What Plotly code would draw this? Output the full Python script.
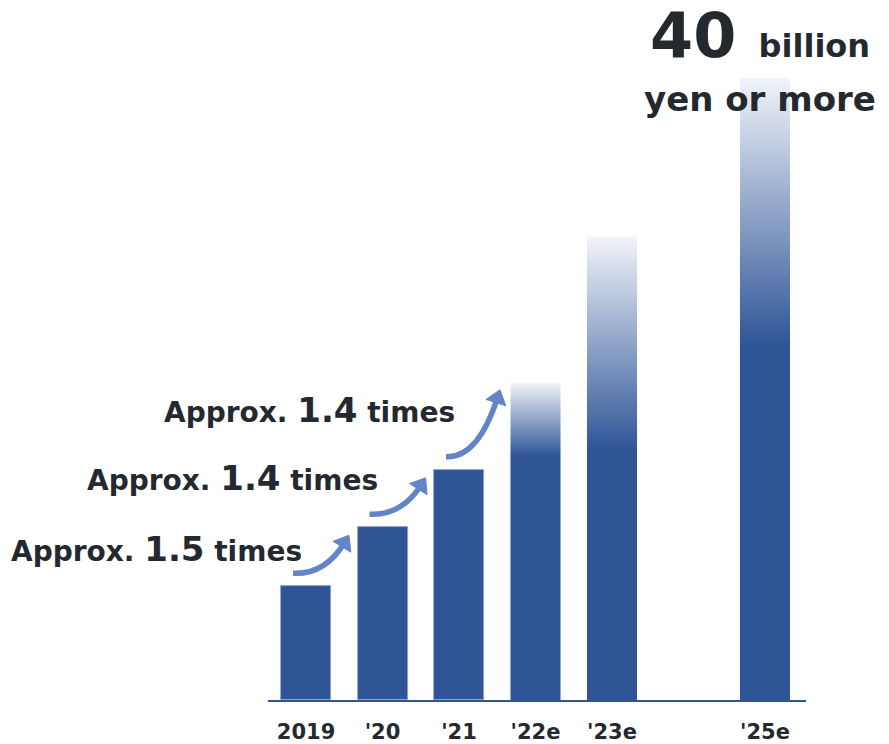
import plotly.graph_objects as go

# ---- data ----
years = ["2019", "'20", "'21", "'22e", "'23e", "'25e"]
slots = [0, 1, 2, 3, 4, 6]          # '24 slot left empty
values = [7.3, 11.1, 14.8, 20.4, 29.8, 40.0]   # billion yen
estimate = [False, False, False, True, True, True]
growth_labels = ["1.5", "1.4", "1.4"]

# ---- style ----
BAR = "#2F5597"
FADE = "#F1F4F9"
ARROW = "#6384C8"
TXT = "#23292F"
FONT = "DejaVu Sans"
solid_frac = {3: 0.77, 4: 0.54, 5: 0.57}
BW = 0.654

fig = go.Figure()

# solid bars
sx = [slots[i] for i in range(len(values)) if not estimate[i]]
sy = [values[i] for i in range(len(values)) if not estimate[i]]
fig.add_trace(go.Bar(x=sx, y=sy, width=BW, marker=dict(color=BAR, line=dict(width=0.8, color="#8EA2CF")),
                     hoverinfo="skip", showlegend=False))

# gradient bars (estimates)
for i in range(len(values)):
    if not estimate[i]:
        continue
    c = slots[i]
    v = values[i]
    f = solid_frac[i]
    fig.add_trace(go.Scatter(
        x=[c - BW / 2, c + BW / 2, c + BW / 2, c - BW / 2, c - BW / 2],
        y=[0, 0, v, v, 0],
        mode="lines", line=dict(width=0), fill="toself",
        fillgradient=dict(type="vertical", start=0, stop=v,
                          colorscale=[[0, BAR], [f, BAR], [1, FADE]]),
        hoverinfo="skip", showlegend=False))

# growth arrows + labels
for k, g in enumerate(growth_labels):
    x0 = slots[k] - 0.17
    y0 = values[k] + 0.85
    x1 = slots[k] + 0.5
    y1 = values[k + 1] - 1.0
    cx = x0 + 0.62 * (x1 - x0)
    cy = y0 - 0.1
    fig.add_shape(type="path", path=f"M {x0},{y0} Q {cx},{cy} {x1},{y1}",
                  line=dict(color=ARROW, width=5.5), layer="below")
    # head oriented along end tangent
    fig.add_trace(go.Scatter(x=[cx, x1], y=[cy, y1], mode="markers",
                             marker=dict(symbol="triangle-up", size=[0, 18], color=ARROW, opacity=1,
                                         angleref="previous", line=dict(width=1, color=ARROW)),
                             hoverinfo="skip", showlegend=False))

label_y = [9.7, 14.27, 18.67]
for k, g in enumerate(growth_labels):
    fig.add_annotation(x=slots[k] - 0.03, y=label_y[k], xref="x", yref="y",
                       xanchor="right", yanchor="middle", showarrow=False,
                       text=f"Approx. <span style='font-size:34px'>{g}</span> times",
                       font=dict(family=FONT, size=28, color=TXT, weight="bold"))

# headline over final bar
fig.add_annotation(x=slots[-1] - 0.07, y=1 - 35 / 700, xref="x", yref="paper",
                   xanchor="center", yanchor="middle", showarrow=False,
                   text="<span style='font-size:62px'>40</span>  billion",
                   font=dict(family=FONT, size=32, color=TXT, weight="bold"))
fig.add_annotation(x=slots[-1] - 0.06, y=1 - 99 / 700, xref="x", yref="paper",
                   xanchor="center", yanchor="middle", showarrow=False,
                   text="yen or more",
                   font=dict(family=FONT, size=34, color=TXT, weight="bold"))

ymax = values[-1] * 700 / 622
fig.update_layout(
    width=889, height=744,
    margin=dict(l=268, r=83, t=0, b=44, autoexpand=False),
    paper_bgcolor="white", plot_bgcolor="white",
    bargap=0, hovermode=False,
    xaxis=dict(range=[-0.497, 6.536], tickvals=slots, ticktext=years,
               showgrid=False, zeroline=False, showline=True, linecolor=BAR, linewidth=1.5,
               ticks="", ticklabelstandoff=12, automargin=False,
               tickfont=dict(family=FONT, size=21, color=TXT, weight="bold")),
    yaxis=dict(range=[0, ymax], visible=False, showgrid=False, zeroline=False, automargin=False),
)

fig.write_html("out.html", config={"displayModeBar": False},
               post_script="document.body.style.margin='0';document.body.style.overflow='hidden';")
